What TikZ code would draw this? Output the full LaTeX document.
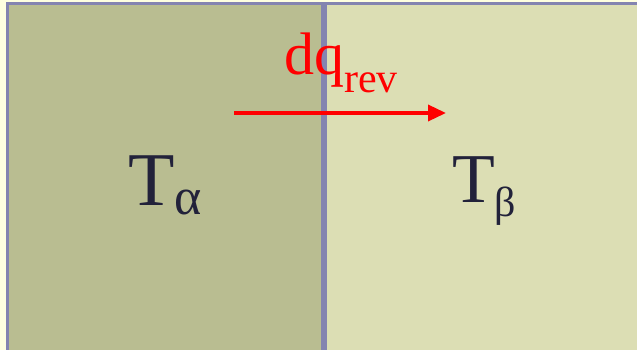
\documentclass[tikz,border=0pt]{standalone}
\usepackage{fontspec}
\setmainfont{Liberation Serif}
\usetikzlibrary{arrows.meta, positioning}
\definecolor{paper}{HTML}{FFFFE0}
\definecolor{hotside}{HTML}{B9BD91}
\definecolor{coldside}{HTML}{DCDEB4}
\definecolor{wall}{HTML}{8484B0}
\definecolor{ink}{HTML}{22223A}

\begin{document}
\begin{tikzpicture}[x=1pt, y=-1pt,
            lbl/.style = {inner sep=0pt, anchor=base west},
            flow/.style = {red, line width=3.5pt, -{Triangle[length=18pt,width=16pt]}}]
            \fill[paper] (0,0) rectangle (637,350);
            \useasboundingbox (0,0) rectangle (637,350);
            \coordinate (NW) at (7,4);
            \coordinate (SW) at (7,350);
            \coordinate (NE) at (637,4);
            \coordinate (SE) at (637,350);
            \coordinate (WT) at (324,4);
            \coordinate (WB) at (324,350);
            \coordinate (src) at (234,113);
            \coordinate (dst) at (446,113);
            \fill[hotside] (NW) rectangle (WB);
            \fill[coldside] (WT) rectangle (SE);
            \draw[wall, line width=3pt] (SW) -- (NW) -- (NE);
            \draw[wall, line width=5.2pt] (WT) -- (WB);
            \draw[flow] (src) -- (dst);
            \node[lbl, text=red, font=\fontsize{60}{60}\selectfont] (dq) at (284,75)
                {dq\raisebox{-18pt}{\fontsize{42}{42}\selectfont rev}};
            \node[lbl, text=ink, font=\fontsize{76}{76}\selectfont] (Ta) at (128,205)
                {T\raisebox{-9pt}{\fontsize{52}{52}\selectfont α}};
            \node[lbl, text=ink, font=\fontsize{70}{70}\selectfont] (Tb) at (452,202)
                {T\raisebox{-14pt}{\fontsize{42}{42}\selectfont β}};
\end{tikzpicture}
\end{document}
